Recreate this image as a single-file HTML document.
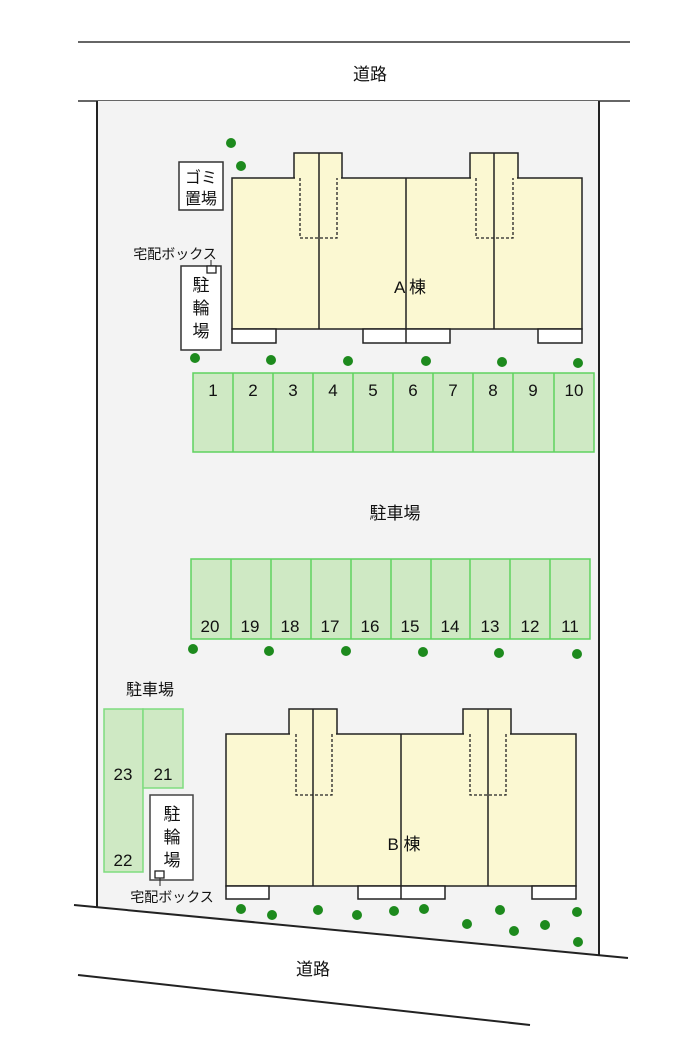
<!DOCTYPE html>
<html><head><meta charset="utf-8"><style>
html,body{margin:0;padding:0;background:#fff;}
svg{display:block;}
text{font-family:"Liberation Sans","Noto Sans CJK JP",sans-serif;fill:#111;}
</style></head><body>
<svg width="700" height="1050" viewBox="0 0 700 1050" xmlns="http://www.w3.org/2000/svg">
<rect width="700" height="1050" fill="#fff"/>
<line x1="78" y1="42" x2="630" y2="42" stroke="#333" stroke-width="1.5"/>
<line x1="78" y1="101" x2="630" y2="101" stroke="#333" stroke-width="1.5"/>
<text x="370" y="80" font-size="17" text-anchor="middle">道路</text>
<polygon points="97,101 599,101 599,956 97,907" fill="#f3f3f3"/>
<line x1="97" y1="101" x2="97" y2="907" stroke="#222" stroke-width="2"/>
<line x1="599" y1="101" x2="599" y2="956" stroke="#222" stroke-width="2"/>
<line x1="74" y1="905" x2="628" y2="958" stroke="#222" stroke-width="2"/>
<line x1="78" y1="975" x2="530" y2="1025" stroke="#222" stroke-width="2"/>
<text x="313" y="975" font-size="17" text-anchor="middle">道路</text>

<g stroke="#222" stroke-width="1.5" fill="#fbf8d2">
<rect x="294" y="153" width="48" height="30"/>
<rect x="470" y="153" width="48" height="30"/>
<rect x="232" y="178" width="350" height="151"/>
<rect x="232" y="329" width="44" height="14" fill="#fff"/>
<rect x="363" y="329" width="87" height="14" fill="#fff"/>
<rect x="538" y="329" width="44" height="14" fill="#fff"/>
</g>
<g fill="#fbf8d2"><rect x="295" y="176" width="46" height="5"/><rect x="471" y="176" width="46" height="5"/></g>
<g stroke="#222" stroke-width="1.5">
<line x1="319" y1="153" x2="319" y2="329"/><line x1="406" y1="178" x2="406" y2="343"/><line x1="494" y1="153" x2="494" y2="329"/>
</g>
<g stroke="#222" stroke-width="1.3" stroke-dasharray="3,2" fill="none">
<polyline points="300,178 300,238 337,238 337,178"/><polyline points="476,178 476,238 513,238 513,178"/>
</g>
<text x="410" y="293" font-size="17" text-anchor="middle">A 棟</text>

<rect x="179" y="162" width="44" height="48" fill="#fff" stroke="#333" stroke-width="1.5"/>
<text x="201" y="183" font-size="16" text-anchor="middle">ゴミ</text>
<text x="201" y="204" font-size="16" text-anchor="middle">置場</text>
<text x="175" y="259" font-size="14" text-anchor="middle">宅配ボックス</text>
<rect x="181" y="266" width="40" height="84" fill="#fff" stroke="#333" stroke-width="1.5"/>
<rect x="207" y="266" width="9" height="7" fill="#fff" stroke="#222" stroke-width="1.3"/>
<line x1="211" y1="260" x2="211" y2="266" stroke="#222"/>
<text x="201" y="291" font-size="17" text-anchor="middle">駐</text>
<text x="201" y="314" font-size="17" text-anchor="middle">輪</text>
<text x="201" y="337" font-size="17" text-anchor="middle">場</text>

<rect x="193" y="373" width="401" height="79" fill="#cfe9c4" stroke="#5fd25f" stroke-width="1.5"/>
<g stroke="#5fd25f" stroke-width="1.5">
<line x1="233" y1="373" x2="233" y2="452"/><line x1="273" y1="373" x2="273" y2="452"/><line x1="313" y1="373" x2="313" y2="452"/><line x1="353" y1="373" x2="353" y2="452"/><line x1="393" y1="373" x2="393" y2="452"/><line x1="433" y1="373" x2="433" y2="452"/><line x1="473" y1="373" x2="473" y2="452"/><line x1="513" y1="373" x2="513" y2="452"/><line x1="554" y1="373" x2="554" y2="452"/>
</g>
<g font-size="17" text-anchor="middle">
<text x="213" y="396">1</text><text x="253" y="396">2</text><text x="293" y="396">3</text><text x="333" y="396">4</text><text x="373" y="396">5</text><text x="413" y="396">6</text><text x="453" y="396">7</text><text x="493" y="396">8</text><text x="533" y="396">9</text><text x="574" y="396">10</text>
</g>
<text x="395" y="519" font-size="17" text-anchor="middle">駐車場</text>

<rect x="191" y="559" width="399" height="80" fill="#cfe9c4" stroke="#5fd25f" stroke-width="1.5"/>
<g stroke="#5fd25f" stroke-width="1.5">
<line x1="231" y1="559" x2="231" y2="639"/><line x1="271" y1="559" x2="271" y2="639"/><line x1="311" y1="559" x2="311" y2="639"/><line x1="351" y1="559" x2="351" y2="639"/><line x1="391" y1="559" x2="391" y2="639"/><line x1="431" y1="559" x2="431" y2="639"/><line x1="470" y1="559" x2="470" y2="639"/><line x1="510" y1="559" x2="510" y2="639"/><line x1="550" y1="559" x2="550" y2="639"/>
</g>
<g font-size="17" text-anchor="middle">
<text x="210" y="632">20</text><text x="250" y="632">19</text><text x="290" y="632">18</text><text x="330" y="632">17</text><text x="370" y="632">16</text><text x="410" y="632">15</text><text x="450" y="632">14</text><text x="490" y="632">13</text><text x="530" y="632">12</text><text x="570" y="632">11</text>
</g>

<text x="150" y="695" font-size="16" text-anchor="middle">駐車場</text>
<rect x="104" y="709" width="39" height="163" fill="#cfe9c4" stroke="#7fdc7f" stroke-width="1.5"/>
<rect x="143" y="709" width="40" height="79" fill="#cfe9c4" stroke="#7fdc7f" stroke-width="1.5"/>
<text x="123" y="780" font-size="17" text-anchor="middle">23</text>
<text x="163" y="780" font-size="17" text-anchor="middle">21</text>
<text x="123" y="866" font-size="17" text-anchor="middle">22</text>
<rect x="150" y="795" width="43" height="85" fill="#fff" stroke="#444" stroke-width="1.5"/>
<text x="172" y="820" font-size="17" text-anchor="middle">駐</text>
<text x="172" y="843" font-size="17" text-anchor="middle">輪</text>
<text x="172" y="866" font-size="17" text-anchor="middle">場</text>
<rect x="155" y="871" width="9" height="7" fill="#fff" stroke="#222" stroke-width="1.3"/>
<line x1="160" y1="878" x2="160" y2="886" stroke="#222"/>
<text x="172" y="902" font-size="14" text-anchor="middle">宅配ボックス</text>

<g stroke="#222" stroke-width="1.5" fill="#fbf8d2">
<rect x="289" y="709" width="48" height="30"/>
<rect x="463" y="709" width="48" height="30"/>
<rect x="226" y="734" width="350" height="152"/>
<rect x="226" y="886" width="43" height="13" fill="#fff"/>
<rect x="358" y="886" width="87" height="13" fill="#fff"/>
<rect x="532" y="886" width="44" height="13" fill="#fff"/>
</g>
<g fill="#fbf8d2"><rect x="290" y="732" width="46" height="5"/><rect x="464" y="732" width="46" height="5"/></g>
<g stroke="#222" stroke-width="1.5">
<line x1="313" y1="709" x2="313" y2="886"/><line x1="401" y1="734" x2="401" y2="899"/><line x1="488" y1="709" x2="488" y2="886"/>
</g>
<g stroke="#222" stroke-width="1.3" stroke-dasharray="3,2" fill="none">
<polyline points="296,734 296,795 332,795 332,734"/><polyline points="470,734 470,795 506,795 506,734"/>
</g>
<text x="404" y="850" font-size="17" text-anchor="middle">B 棟</text>

<g fill="#1d8a1d">
<circle cx="231" cy="143" r="5"/><circle cx="241" cy="166" r="5"/>
<circle cx="195" cy="358" r="5"/><circle cx="271" cy="360" r="5"/><circle cx="348" cy="361" r="5"/><circle cx="426" cy="361" r="5"/><circle cx="502" cy="362" r="5"/><circle cx="578" cy="363" r="5"/>
<circle cx="193" cy="649" r="5"/><circle cx="269" cy="651" r="5"/><circle cx="346" cy="651" r="5"/><circle cx="423" cy="652" r="5"/><circle cx="499" cy="653" r="5"/><circle cx="577" cy="654" r="5"/>
<circle cx="241" cy="909" r="5"/><circle cx="272" cy="915" r="5"/><circle cx="318" cy="910" r="5"/><circle cx="357" cy="915" r="5"/><circle cx="394" cy="911" r="5"/><circle cx="424" cy="909" r="5"/><circle cx="467" cy="924" r="5"/><circle cx="500" cy="910" r="5"/><circle cx="514" cy="931" r="5"/><circle cx="545" cy="925" r="5"/><circle cx="577" cy="912" r="5"/><circle cx="578" cy="942" r="5"/>
</g>
</svg>
</body></html>
